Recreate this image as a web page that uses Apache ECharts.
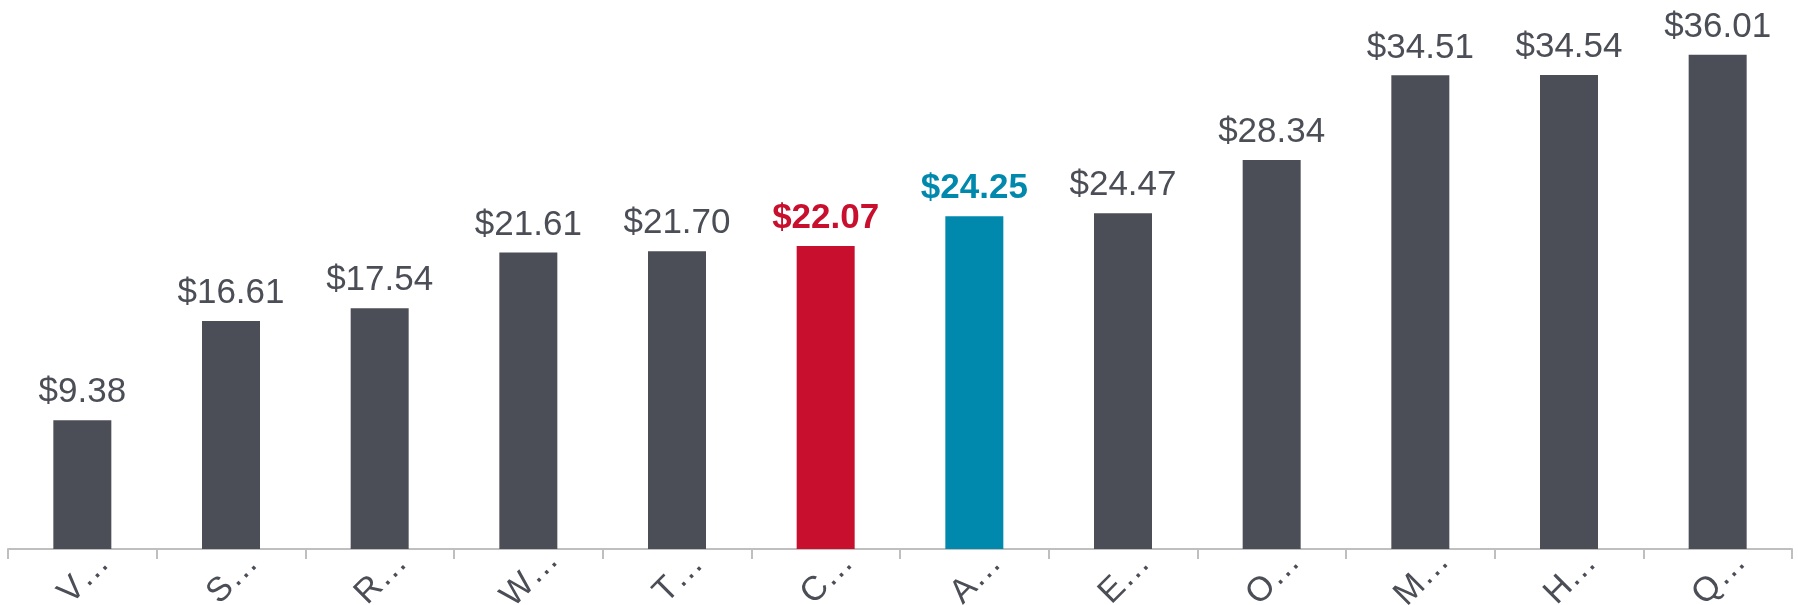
<!DOCTYPE html>
<html>
<head>
<meta charset="utf-8">
<script src="https://cdn.jsdelivr.net/npm/echarts@6/dist/echarts.min.js"></script>
<style>
  html, body { margin: 0; padding: 0; background: #fff; }
  #chart { width: 1798px; height: 605px; }
</style>
</head>
<body>
<div id="chart"></div>
<script>
// categories (names truncated in the original)
const categories = ['V…', 'S…', 'R…', 'W…', 'T…', 'C…', 'A…', 'E…', 'O…', 'M…', 'H…', 'Q…']
// price per item
const values = [9.38, 16.61, 17.54, 21.61, 21.70, 22.07, 24.25, 24.47, 28.34, 34.51, 34.54, 36.01]
// highlighted bars
const highlight = { 'C…': '#c8102e', 'A…': '#0088ad' }

const gray = '#4b4e56'

const chart = echarts.init(document.getElementById('chart'))

const data = values.map((v, i) => {
  const c = highlight[categories[i]]
  return {
    value: v,
    itemStyle: { color: c || gray },
    label: c ? { color: c, fontWeight: 'bold' } : {}
  }
})

const option = {
  animation: false,
  grid: {
    top: 0,
    left: 8,
    right: 6,
    bottom: 56,
    containLabel: false,
    outerBoundsMode: 'none'
  },
  xAxis: {
    type: 'category',
    data: categories,
    axisLine: { lineStyle: { color: '#bfbfbf', width: 2 } },
    axisTick: {
      show: true,
      interval: 0,
      alignWithLabel: false,
      length: 10,
      lineStyle: { color: '#bfbfbf', width: 2 }
    },
    axisLabel: {
      interval: 0,
      rotate: 45,
      align: 'center',
      margin: 31,
      padding: [0, 0, 0, 5],
      color: gray,
      fontSize: 34,
      fontFamily: 'Liberation Sans'
    }
  },
  yAxis: {
    type: 'value',
    min: 0,
    max: 40,
    show: false,
    splitLine: { show: false }
  },
  series: [{
    type: 'bar',
    data: data,
    barWidth: 58,
    label: {
      show: true,
      position: 'top',
      distance: 10,
      fontSize: 35,
      fontFamily: 'Liberation Sans',
      color: gray,
      formatter: p => '$' + p.value.toFixed(2)
    }
  }]
}

chart.setOption(option)
</script>
</body>
</html>
